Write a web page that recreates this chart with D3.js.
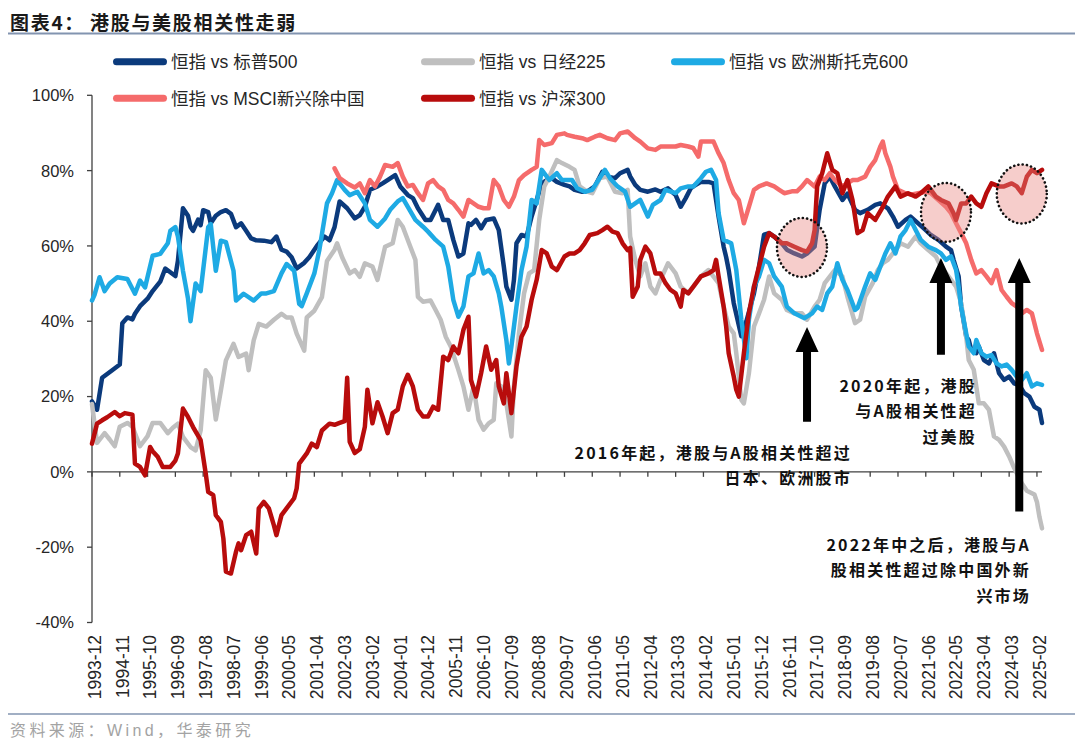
<!DOCTYPE html>
<html>
<head>
<meta charset="utf-8">
<script src="https://cdn.jsdelivr.net/npm/d3@7"></script>
<style>
body { margin: 0; background: #fff; }
svg { display: block; font-family: "Liberation Sans", Arial, "Noto Sans CJK SC", sans-serif; }
</style>
</head>
<body>
<svg id="chart" width="1080" height="748"></svg>
<script>
// correlation of HSI with other indices, monthly (%)
var hsiVsSpx = [["1993-12",18.7],["1994-02",16.5],["1994-04",25],["1994-06",26],["1994-08",27],["1994-11",28.5],["1994-12",39.5],
  ["1995-02",41],["1995-04",40.5],["1995-05",42],["1995-07",44],["1995-10",46],["1995-12",48],["1996-03",50.5],["1996-05",54],
  ["1996-07",53],["1996-09",52],["1996-10",56],["1996-12",70],["1997-02",68],["1997-03",65],["1997-04",64],["1997-06",67],
  ["1997-07",65.5],["1997-08",69.5],["1997-10",69],["1997-11",66],["1998-01",68],["1998-03",69],["1998-05",69.5],["1998-07",68.5],
  ["1998-09",65],["1998-11",66],["1999-01",64],["1999-03",62],["1999-05",61.5],["1999-08",61.4],["1999-11",61],["2000-01",62.5],
  ["2000-03",59],["2000-05",58.5],["2000-07",57],["2000-09",54],["2000-12",55.5],["2001-02",57],["2001-05",60],["2001-08",62.5],
  ["2001-10",61.5],["2001-12",65],["2002-02",71.8],["2002-05",70],["2002-08",67.3],["2002-10",68.2],["2002-12",70.4],["2003-02",74.9],
  ["2003-05",75.8],["2003-07",76.6],["2003-09",77.5],["2003-12",78.8],["2004-02",75.8],["2004-05",73.5],["2004-07",72.7],["2004-09",70],
  ["2004-12",66.9],["2005-02",66.9],["2005-05",70.9],["2005-07",66.9],["2005-09",66.9],["2005-11",61.6],["2006-01",57.2],["2006-03",58],
  ["2006-05",66],["2006-06",65.6],["2006-08",66.9],["2006-10",64.7],["2006-12",66.9],["2007-03",67.3],["2007-05",64.2],["2007-07",54.5],
  ["2007-08",49.2],["2007-10",45.7],["2007-11",51],["2007-12",60.7],["2008-02",62.9],["2008-04",62.5],["2008-06",67.8],["2008-08",72.2],
  ["2008-10",76.6],["2008-12",77.5],["2009-02",78],["2009-04",77],["2009-07",76.2],["2009-09",75.8],["2009-11",74.9],["2010-02",74.4],
  ["2010-04",74.4],["2010-07",75.8],["2010-10",79.7],["2010-12",78.4],["2011-03",78],["2011-05",79.3],["2011-08",80.2],["2011-09",78.5],
  ["2011-11",76.2],["2012-01",74.9],["2012-04",74.4],["2012-07",75],["2012-09",74.4],["2012-12",75.3],["2013-03",73.5],["2013-05",70.4],
  ["2013-07",72.7],["2013-09",75.3],["2013-10",75.8],["2014-01",77],["2014-04",77],["2014-06",76.6],["2014-08",67.8],["2014-10",59.8],
  ["2014-11",57],["2014-12",53.6],["2015-02",44.8],["2015-05",36],["2015-07",40],["2015-10",47.4],["2015-12",54.5],["2016-02",63],
  ["2016-04",63.4],["2016-06",62.5],["2016-09",60.7],["2016-11",59],["2017-02",58],["2017-05",57.2],["2017-07",58],["2017-10",59.8],
  ["2017-12",69.6],["2018-02",76.6],["2018-04",78.4],["2018-06",75.8],["2018-09",72.2],["2018-11",73.9],["2019-02",69.6],["2019-04",68.7],
  ["2019-07",69.6],["2019-10",70.9],["2019-12",71.3],["2020-03",70],["2020-05",67.8],["2020-07",65.1],["2020-10",66.9],["2020-12",67.8],
  ["2021-03",66],["2021-06",64.2],["2021-08",62.9],["2021-11",61.6],["2022-02",59.8],["2022-04",58.9],["2022-05",56.3],["2022-07",51.9],
  ["2022-08",44],["2022-10",35.9],["2022-11",35],["2022-12",32.4],["2023-02",31.5],["2023-03",33.3],["2023-05",29.7],["2023-07",28.8],
  ["2023-09",31.5],["2023-11",26.2],["2024-01",24.4],["2024-03",25.3],["2024-05",23.5],["2024-07",23],["2024-09",20.9],["2024-11",20],
  ["2025-01",17.3],["2025-03",16.5],["2025-04",13]];

var hsiVsNikkei = [["1993-12",18],["1994-02",7.7],["1994-05",10.3],["1994-07",8.6],["1994-09",6.8],["1994-11",12],["1995-02",13],
  ["1995-04",12],["1995-07",6.8],["1995-10",9.5],["1995-12",13],["1996-03",13],["1996-06",10.3],["1996-08",11.7],["1996-10",12.8],
  ["1996-12",9.3],["1997-03",6.6],["1997-05",5.7],["1997-07",11],["1997-09",27],["1997-11",25],["1998-01",13.9],
  ["1998-03",21.6],["1998-05",29.6],["1998-08",34],["1998-10",30.5],["1999-01",31.4],["1999-02",27],["1999-04",34.9],
  ["1999-06",39.3],["1999-09",38.6],["1999-12",40.4],["2000-03",42],["2000-05",41],["2000-07",41],["2000-09",36.7],["2000-12",32.2],
  ["2001-01",41],["2001-04",42.8],["2001-05",44],["2001-07",46.4],["2001-09",56],["2001-12",59],["2002-01",60.7],["2002-03",57],
  ["2002-06",52.7],["2002-08",53.6],["2002-10",51.8],["2002-12",55.4],["2003-03",54.5],["2003-05",51],["2003-08",59.8],["2003-11",60.7],
  ["2004-01",66.9],["2004-03",65.1],["2004-06",59.8],["2004-08",56.3],["2004-09",46.5],["2004-11",45.2],["2005-02",45.5],["2005-04",43],
  ["2005-06",40.4],["2005-08",35.9],["2005-10",33.3],["2006-01",27.1],["2006-03",22.7],["2006-05",16.5],["2006-07",22.7],["2006-09",13.8],
  ["2006-11",11.2],["2007-01",12.9],["2007-03",13.8],["2007-04",23.5],["2007-06",22.7],["2007-08",18.2],["2007-10",9.4],["2007-11",22.7],
  ["2008-01",36.8],["2008-03",47.4],["2008-05",52.7],["2008-07",53.6],["2008-09",66.9],["2008-11",75.8],["2009-01",78.4],["2009-04",82.8],
  ["2009-06",82],["2009-09",81],["2009-11",80.2],["2010-01",75.8],["2010-04",74.4],["2010-06",74],["2010-09",78],["2010-12",78.4],
  ["2011-03",74.4],["2011-06",74],["2011-08",74.9],["2011-09",62.5],["2011-11",56.3],["2012-01",51.9],["2012-03",55.4],["2012-05",49.2],
  ["2012-07",47.4],["2012-09",51],["2012-12",55.4],["2013-03",52.7],["2013-05",49.2],["2013-08",47.5],["2013-10",49.2],["2014-01",51.9],
  ["2014-04",53.6],["2014-08",50.1],["2014-10",43.9],["2014-12",38.6],["2015-02",36.8],["2015-03",31.5],["2015-05",19.1],["2015-06",18.2],
  ["2015-08",26.2],["2015-10",38.6],["2015-12",42.1],["2016-02",45.7],["2016-04",51.9],["2016-06",47.4],["2016-09",45.7],["2016-11",43],
  ["2017-02",42.1],["2017-05",42.1],["2017-07",40.4],["2017-10",43.9],["2017-12",45.7],["2018-02",50.1],["2018-06",53.6],["2018-09",51.9],
  ["2018-11",46.5],["2019-02",39.5],["2019-04",40.4],["2019-06",46.5],["2019-09",50.1],["2019-11",53.6],["2020-01",55.4],["2020-03",56.3],
  ["2020-06",58.9],["2020-08",60.7],["2020-11",59.8],["2021-02",62.5],["2021-04",60.7],["2021-07",58.9],["2021-10",57.2],["2021-12",54.5],
  ["2022-03",51.9],["2022-06",49.2],["2022-08",44.8],["2022-10",35.9],["2022-11",29.7],["2023-01",27.1],["2023-03",18.2],["2023-05",18.2],
  ["2023-07",16.5],["2023-09",9.4],["2023-11",8.5],["2024-01",6.7],["2024-03",4.1],["2024-05",1],["2024-08",-3],["2024-10",-5],
  ["2025-01",-6],["2025-02",-8],["2025-03",-12],["2025-04",-15]];

var hsiVsStoxx = [["1993-12",45.5],["1994-01",47],["1994-03",51.7],["1994-05",48],["1994-07",50],["1994-10",51.7],["1995-02",51.2],
  ["1995-05",47.3],["1995-07",50.8],["1995-09",49],["1995-12",57.4],["1996-03",57.9],["1996-06",60.7],["1996-07",64],
  ["1996-09",65],["1996-10",62.5],["1996-12",53.4],["1997-02",46],["1997-03",40],["1997-05",50],["1997-07",48],
  ["1997-10",65],["1997-11",65.8],["1998-01",53.4],["1998-03",61.4],["1998-05",61],["1998-08",53.4],["1998-09",45.5],
  ["1998-12",47.3],["1999-04",45.5],["1999-07",47.4],["1999-09",47.4],["1999-12",48],["2000-03",52.7],["2000-05",55.2],
  ["2000-08",53.4],["2000-10",44.6],["2000-11",44],["2001-01",47.4],["2001-04",52.7],["2001-06",59],["2001-09",71.3],["2001-11",74],
  ["2002-01",77.5],["2002-04",74.9],["2002-06",73.5],["2002-09",74.4],["2002-12",71.3],["2003-02",66.9],["2003-05",65.1],["2003-08",67.3],
  ["2003-10",69.6],["2004-01",71.8],["2004-03",72.7],["2004-05",70.4],["2004-08",66.9],["2004-11",65.1],["2005-01",63.8],["2005-04",61.6],
  ["2005-07",59.8],["2005-09",54.5],["2005-10",50.1],["2005-11",45.7],["2006-01",41.2],["2006-03",43.9],["2006-05",51.9],["2006-07",52.7],
  ["2006-09",58],["2006-11",52.7],["2007-01",53.6],["2007-03",51.9],["2007-05",47.4],["2007-06",43.9],["2007-08",35],["2007-09",28.8],
  ["2007-10",33.3],["2007-12",43.9],["2008-02",53.6],["2008-04",59.8],["2008-06",72.2],["2008-08",71.3],["2008-10",80.2],["2009-01",77.5],
  ["2009-04",79.3],["2009-06",77.5],["2009-10",77.5],["2009-12",75.3],["2010-03",74.4],["2010-06",74.9],["2010-08",77],["2010-11",80.2],
  ["2011-01",78],["2011-04",75.8],["2011-07",74.4],["2011-09",70.4],["2012-01",72.2],["2012-04",67.8],["2012-06",70.9],["2012-09",72.2],
  ["2012-11",74.9],["2013-03",74],["2013-05",75.3],["2013-08",75.8],["2013-10",75.8],["2014-01",78],["2014-03",79.7],["2014-05",80.2],
  ["2014-07",77.5],["2014-08",68.7],["2014-10",61.6],["2015-01",60.7],["2015-03",53.6],["2015-05",40.4],["2015-07",30.2],["2015-08",40.4],
  ["2015-10",49.2],["2015-12",51.9],["2016-02",56.3],["2016-04",55.4],["2016-06",51.9],["2016-09",49.2],["2016-11",43.9],["2017-02",42.1],
  ["2017-06",40.8],["2017-09",42.1],["2017-11",43.9],["2018-01",43],["2018-03",47.4],["2018-05",49.2],["2018-07",55.4],["2018-09",51],
  ["2018-11",48.3],["2019-02",43],["2019-03",43.5],["2019-06",49.2],["2019-08",52.7],["2019-10",51],["2019-12",54.5],["2020-02",58],
  ["2020-04",60.7],["2020-06",58],["2020-08",62.5],["2020-10",64.2],["2020-12",66.9],["2021-02",64.2],["2021-04",61.6],["2021-07",59.8],
  ["2021-10",58.9],["2021-12",58],["2022-02",56.3],["2022-04",57.2],["2022-06",53.6],["2022-07",49.2],["2022-08",43.9],["2022-10",36.8],
  ["2022-11",33.3],["2023-01",31.5],["2023-02",35],["2023-04",31.5],["2023-06",30.6],["2023-08",31],["2023-10",28.8],["2023-12",28],
  ["2024-02",28.5],["2024-04",27.1],["2024-06",25.3],["2024-08",24.4],["2024-10",26.2],["2024-12",22.7],["2025-02",23.5],["2025-04",23.1]];

var hsiVsMsciEmXChina = [["2001-12",80.6],["2002-02",78],["2002-05",76.6],["2002-08",75.5],["2002-10",76.6],["2002-12",74],
  ["2003-02",77.5],["2003-04",75.8],["2003-06",78.4],["2003-08",81.5],["2003-11",81],["2004-01",82],["2004-03",78.4],["2004-05",75.8],
  ["2004-07",76.2],["2004-09",74],["2004-11",72.2],["2005-01",76.6],["2005-03",77.5],["2005-05",75.8],["2005-07",74.9],["2005-09",72.2],
  ["2005-11",71.3],["2006-01",69.6],["2006-03",67.8],["2006-05",72.2],["2006-07",71.3],["2006-09",70.4],["2006-11",70],["2007-01",70],
  ["2007-03",77.5],["2007-05",75.8],["2007-07",72.2],["2007-09",70.4],["2007-11",73.1],["2008-01",77.5],["2008-03",78.8],["2008-06",80.2],
  ["2008-08",81],["2008-09",88.1],["2008-11",86.8],["2009-02",87.3],["2009-04",89.5],["2009-07",89.9],["2009-08",89.5],["2009-11",89],
  ["2010-02",88.6],["2010-04",88.1],["2010-07",89],["2010-09",89.5],["2010-12",88.6],["2011-03",88.1],["2011-05",89.9],["2011-08",90.4],
  ["2011-11",88.6],["2012-01",87.7],["2012-04",85.9],["2012-07",85.5],["2012-09",86.4],["2012-12",86.4],["2013-03",86.4],["2013-05",86.8],
  ["2013-08",86.4],["2013-10",86],["2013-12",83.7],["2014-01",87.7],["2014-04",87.7],["2014-06",87.7],["2014-08",84.6],["2014-10",82],
  ["2014-12",77.5],["2015-02",74],["2015-04",72.2],["2015-06",66],["2015-08",70.4],["2015-10",74.9],["2015-12",75.8],["2016-03",76.6],
  ["2016-06",75.8],["2016-08",74.9],["2016-10",74],["2017-01",74.5],["2017-03",74.5],["2017-05",75.8],["2017-07",77.5],["2017-10",75.8],
  ["2017-12",78.4],["2018-02",77.5],["2018-04",79.3],["2018-06",77.5],["2018-09",75.8],["2019-01",77.5],["2019-03",77.5],["2019-06",78.4],
  ["2019-08",81],["2019-10",82.8],["2019-12",86.4],["2020-01",87.7],["2020-02",84.6],["2020-04",81],["2020-05",78.4],["2020-07",74.9],
  ["2020-10",74],["2020-12",73.6],["2021-03",74],["2021-06",74.4],["2021-08",74],["2021-11",72.2],["2022-02",70.4],["2022-04",68.7],
  ["2022-06",66],["2022-08",63.4],["2022-10",60.7],["2022-12",56.3],["2023-02",52.7],["2023-04",53.6],["2023-06",51.9],["2023-08",50.1],
  ["2023-10",53.6],["2023-12",48.3],["2024-02",46.5],["2024-04",44.8],["2024-06",43.9],["2024-08",42.1],["2024-10",43],["2024-12",42.1],
  ["2025-02",36.8],["2025-04",32.4]];

var hsiVsCsi300 = [["1993-12",7.5],["1994-02",12.8],["1994-04",13.7],["1994-06",14.5],["1994-09",15.9],["1994-11",14.8],["1995-01",15.6],
  ["1995-04",15.2],["1995-05",2.2],["1995-07",1.3],["1995-09",-0.9],["1995-11",6.6],["1995-12",5.5],["1996-02",4],["1996-04",1.3],
  ["1996-07",1.3],["1996-09",3],["1996-10",4.9],["1996-12",16.8],["1997-02",14.6],["1997-04",11.9],["1997-07",8.4],["1997-09",-0.4],
  ["1997-10",-5.3],["1997-12",-6.2],["1998-01",-11.5],["1998-03",-13.3],["1998-04",-17.7],["1998-05",-26.5],["1998-07",-27],["1998-09",-21.2],
  ["1998-10",-19],["1998-11",-20.8],["1999-01",-16.8],["1999-03",-15.9],["1999-05",-21.7],["1999-06",-9.7],["1999-08",-8],["1999-10",-9.7],
  ["1999-12",-14.2],["2000-01",-16.8],["2000-03",-11.5],["2000-05",-9.7],["2000-08",-7],["2000-09",-4.4],["2000-10",2.2],["2001-01",4.9],
  ["2001-03",7.5],["2001-05",6.6],["2001-07",11],["2001-10",12.8],["2001-12",12.5],["2002-02",13],["2002-04",13.5],
  ["2002-05",25],["2002-06",8],["2002-08",5],["2002-10",6],["2002-12",12],["2003-01",21.8],["2003-03",12.9],["2003-05",18.5],
  ["2003-07",14.7],["2003-09",10.3],["2003-11",15.6],["2004-01",16.5],["2004-03",22.7],["2004-05",25.8],["2004-07",22.7],["2004-09",16.5],
  ["2004-11",14.7],["2005-01",14.7],["2005-03",17.3],["2005-05",16.5],["2005-07",30.6],["2005-09",29.7],["2005-11",33.3],["2006-01",31.5],
  ["2006-03",37.7],["2006-05",41.2],["2006-06",24.4],["2006-08",20],["2006-10",26.2],["2006-12",33.3],["2007-02",27.1],["2007-04",29.7],
  ["2007-05",22.7],["2007-07",18.2],["2007-08",26.2],["2007-10",15.6],["2007-12",28],["2008-02",35.9],["2008-04",38.6],["2008-06",45.7],
  ["2008-08",51],["2008-10",58.9],["2008-12",58],["2009-02",54.5],["2009-04",53.6],["2009-07",57.2],["2009-09",58],["2009-11",58],
  ["2010-01",58.9],["2010-03",60.7],["2010-05",62.9],["2010-08",63.4],["2010-10",64.2],["2010-12",65.1],["2011-02",63.8],["2011-04",63.4],
  ["2011-06",60.7],["2011-08",58.9],["2011-09",59.5],["2011-10",46.5],["2011-12",49.2],["2012-01",56.3],["2012-03",59.8],["2012-05",58],
  ["2012-07",52.7],["2012-09",52.7],["2012-11",50.1],["2013-01",48.3],["2013-03",47.4],["2013-05",43.9],["2013-06",48.3],["2013-08",47.4],
  ["2013-10",49.2],["2014-01",51.9],["2014-04",52.7],["2014-06",53.6],["2014-07",56.3],["2014-08",51.9],["2014-10",43.9],["2014-11",38.6],
  ["2014-12",31.5],["2015-02",25.3],["2015-03",21.8],["2015-04",20],["2015-06",31.5],["2015-08",42.1],["2015-10",49.2],["2015-12",54.5],
  ["2016-02",59.8],["2016-04",63.4],["2016-06",62.5],["2016-09",60.7],["2016-11",60.7],["2017-02",59.8],["2017-05",58.9],["2017-07",58.5],
  ["2017-09",60.7],["2017-10",64.2],["2017-11",75.8],["2018-01",79.3],["2018-03",84.6],["2018-05",80.2],["2018-07",79.3],["2018-09",74],
  ["2018-11",77.5],["2019-01",72.2],["2019-03",63.4],["2019-05",64.2],["2019-07",68.7],["2019-10",66.9],["2020-01",70.4],["2020-03",73.1],
  ["2020-06",75.8],["2020-08",73.1],["2020-11",74],["2021-02",73.1],["2021-04",74],["2021-07",75.8],["2021-10",73.1],["2021-12",72.2],
  ["2022-03",71.3],["2022-05",68.7],["2022-06",66.9],["2022-08",71.3],["2022-10",71.3],["2022-12",73.1],["2023-02",71.3],["2023-04",70.4],
  ["2023-06",74],["2023-08",76.6],["2023-11",75.8],["2024-01",75.8],["2024-04",76.6],["2024-06",75.8],["2024-08",74],["2024-10",78.4],
  ["2024-12",80.2],["2025-02",79.3],["2025-04",80.2]];

var seriesNames = ["恒指 vs 标普500", "恒指 vs 日经225", "恒指 vs 欧洲斯托克600", "恒指 vs MSCI新兴除中国", "恒指 vs 沪深300"];
var seriesColors = ["#0b3a7c", "#bfbfbf", "#1eaae4", "#f56b6b", "#b80c0c"];
var seriesData = [hsiVsSpx, hsiVsNikkei, hsiVsStoxx, hsiVsMsciEmXChina, hsiVsCsi300];

var xTickLabels = ["1993-12","1994-11","1995-10","1996-09","1997-08","1998-07","1999-06","2000-05","2001-04","2002-03","2003-02",
  "2004-01","2004-12","2005-11","2006-10","2007-09","2008-08","2009-07","2010-06","2011-05","2012-04","2013-03","2014-02","2015-01",
  "2015-12","2016-11","2017-10","2018-09","2019-08","2020-07","2021-06","2022-05","2023-04","2024-03","2025-02"];
var yTicks = [-40, -20, 0, 20, 40, 60, 80, 100];

var svg = d3.select('#chart');
var fmt = d3.timeFormat('%Y-%m');

// monthly categories, 1993-12 .. 2025-04
var months = d3.timeMonth.range(new Date(1993, 11, 1), new Date(2025, 4, 1)).map(fmt);

var x = d3.scalePoint()
    .domain(months)
    .range([92, 1042]);

var y = d3.scaleLinear()
    .domain([-40, 100])
    .range([622.5, 95.3]);

// title + frame lines
svg.append('text')
    .attr('x', 10).attr('y', 30)
    .style('font-family', '"Noto Sans CJK SC", sans-serif')
    .style('font-size', '19px').style('font-weight', 700)
    .style('letter-spacing', '1.7px').attr('fill', '#1a1a1a')
    .text('图表4：');
svg.append('text')
    .attr('x', 90).attr('y', 30)
    .style('font-family', '"Noto Sans CJK SC", sans-serif')
    .style('font-size', '19px').style('font-weight', 700)
    .style('letter-spacing', '1.7px').attr('fill', '#1a1a1a')
    .text('港股与美股相关性走弱');
svg.append('line')
    .attr('x1', 8).attr('x2', 1075).attr('y1', 33.5).attr('y2', 33.5)
    .attr('stroke', '#8294b0').attr('stroke-width', 2);
svg.append('line')
    .attr('x1', 8).attr('x2', 1075).attr('y1', 714).attr('y2', 714)
    .attr('stroke', '#8294b0').attr('stroke-width', 1.5);
svg.append('text')
    .attr('x', 10).attr('y', 736)
    .style('font-size', '16px').style('letter-spacing', '3.4px')
    .attr('fill', '#a3a3a3')
    .text('资料来源：Wind，华泰研究');

// legend
var legendCols = [113, 421, 671];
var legendRows = [61.7, 98.3];
var legend = svg.append('g').attr('class', 'legend');
seriesNames.forEach(function (name, i) {
    var lx = legendCols[i % 3], ly = legendRows[Math.floor(i / 3)];
    legend.append('line')
        .attr('x1', lx + 3.5).attr('x2', lx + 50.5)
        .attr('y1', ly).attr('y2', ly)
        .attr('stroke', seriesColors[i]).attr('stroke-width', 7)
        .attr('stroke-linecap', 'round');
    legend.append('text')
        .attr('x', lx + 58).attr('y', ly)
        .attr('dy', '0.36em')
        .style('font-size', '17.5px').attr('fill', '#262626')
        .text(name);
});

// axes
var y0 = y(0);
var axisColor = '#404040';

svg.append('line')
    .attr('x1', 92).attr('x2', 92)
    .attr('y1', y(100)).attr('y2', y(-40))
    .attr('stroke', axisColor).attr('stroke-width', 1.3);

svg.append('g').selectAll('line')
    .data(yTicks).enter().append('line')
    .attr('x1', 87).attr('x2', 92)
    .attr('y1', function (d) { return y(d); })
    .attr('y2', function (d) { return y(d); })
    .attr('stroke', axisColor).attr('stroke-width', 1.3);

svg.append('g').selectAll('text')
    .data(yTicks).enter().append('text')
    .attr('x', 74)
    .attr('y', function (d) { return y(d); })
    .attr('dy', '0.36em')
    .attr('text-anchor', 'end')
    .style('font-size', '16.5px').attr('fill', '#262626')
    .text(function (d) { return d + '%'; });

svg.append('line')
    .attr('x1', x(months[0])).attr('x2', x(months[months.length - 1]))
    .attr('y1', y0).attr('y2', y0)
    .attr('stroke', axisColor).attr('stroke-width', 1.3);

svg.append('g').selectAll('line')
    .data(xTickLabels).enter().append('line')
    .attr('x1', function (d) { return x(d); })
    .attr('x2', function (d) { return x(d); })
    .attr('y1', y0).attr('y2', y0 + 5)
    .attr('stroke', axisColor).attr('stroke-width', 1.3);

svg.append('g').selectAll('text')
    .data(xTickLabels).enter().append('text')
    .attr('transform', function (d) { return 'translate(' + (x(d) + 2.5) + ',635) rotate(-90)'; })
    .attr('dy', '0.36em')
    .attr('text-anchor', 'end')
    .style('font-size', '17.5px').attr('fill', '#262626')
    .text(function (d) { return d; });

// series lines
var line = d3.line()
    .x(function (d) { return x(d[0]); })
    .y(function (d) { return y(d[1]); });

svg.append('g').selectAll('path')
    .data(seriesData).enter().append('path')
    .attr('d', line)
    .attr('fill', 'none')
    .attr('stroke', function (d, i) { return seriesColors[i]; })
    .attr('stroke-width', 4.5)
    .attr('stroke-linejoin', 'round')
    .attr('stroke-linecap', 'round');

// highlight circles
var circleMarks = [["2017-05", 59.6], ["2022-02", 68.9], ["2024-08", 73.8]];
svg.append('g').selectAll('ellipse')
    .data(circleMarks).enter().append('ellipse')
    .attr('cx', function (d) { return x(d[0]); })
    .attr('cy', function (d) { return y(d[1]); })
    .attr('rx', 25).attr('ry', 29.5)
    .attr('fill', '#e98784').attr('fill-opacity', 0.42)
    .attr('stroke', '#111').attr('stroke-width', 2.6)
    .attr('stroke-dasharray', '0.1 4.2').attr('stroke-linecap', 'round');

// arrows: [month, tip value, tail value]
var arrowMarks = [["2017-07", 38.5, 13.3], ["2021-12", 56.8, 31.1], ["2024-07", 56.8, -10.5]];
svg.append('g').selectAll('path')
    .data(arrowMarks).enter().append('path')
    .attr('d', function (d) {
        var ax = x(d[0]), tip = y(d[1]), tail = y(d[2]), base = tip + 25;
        return 'M' + ax + ',' + tip + 'L' + (ax + 11.5) + ',' + base + 'L' + (ax + 4) + ',' + base +
            'L' + (ax + 4) + ',' + tail + 'L' + (ax - 4) + ',' + tail + 'L' + (ax - 4) + ',' + base +
            'L' + (ax - 11.5) + ',' + base + 'Z';
    })
    .attr('fill', '#000');

// annotation notes
var notes = [
    {x: 852, y: 459, lines: ['2016年起，港股与A股相关性超过', '日本、欧洲股市']},
    {x: 977, y: 392, lines: ['2020年起，港股', '与A股相关性超', '过美股']},
    {x: 1031, y: 551, lines: ['2022年中之后，港股与A', '股相关性超过除中国外新', '兴市场']}
];
notes.forEach(function (n) {
    var t = svg.append('text')
        .attr('text-anchor', 'end')
        .style('font-family', '"Noto Sans CJK SC", sans-serif')
        .style('font-size', '16px').style('font-weight', 700)
        .style('letter-spacing', '2.2px').attr('fill', '#111');
    n.lines.forEach(function (s, i) {
        t.append('tspan').attr('x', n.x).attr('y', n.y + i * 25.3).text(s);
    });
});
</script>
</body>
</html>
